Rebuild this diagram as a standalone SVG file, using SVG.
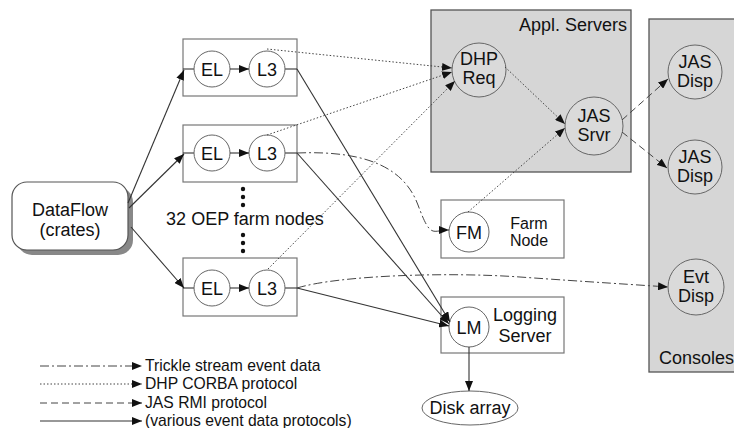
<svg xmlns="http://www.w3.org/2000/svg" width="734" height="428" viewBox="0 0 734 428">
<style>
text{font-family:"Liberation Sans",Arial,sans-serif;fill:#111}
.lbl{font-size:18px;text-anchor:middle}
.sm{font-size:16px;text-anchor:middle}
.leg{font-size:15.7px}
.circ{fill:#fff;stroke:#666;stroke-width:1}
.gc{fill:#dadada;stroke:#666;stroke-width:1}
.box{fill:#fff;stroke:#777;stroke-width:1.2}
.grp{fill:#d6d6d6;stroke:#555;stroke-width:1.3}
.ln{fill:none;stroke:#333;stroke-width:1.1}
.dot{fill:none;stroke:#444;stroke-width:1;stroke-dasharray:1.5 2}
.dash{fill:none;stroke:#444;stroke-width:1;stroke-dasharray:7 4}
.dd{fill:none;stroke:#444;stroke-width:1;stroke-dasharray:9 3 2 3}
</style>
<defs>
<marker id="ah" viewBox="0 0 10 8" refX="10" refY="4" markerWidth="10" markerHeight="8" markerUnits="userSpaceOnUse" orient="auto"><path d="M0,0L10,4L0,8z" fill="#111"/></marker>
</defs>

<g id="appl-servers">
<rect class="grp" x="431" y="10" width="200" height="162"/>
<text x="627" y="31" style="font-size:18px;text-anchor:end">Appl. Servers</text>
</g>
<g id="consoles">
<rect class="grp" x="649" y="19" width="100" height="353"/>
<text x="659" y="364" style="font-size:18px">Consoles</text>
</g>

<g id="dataflow">
<rect x="17" y="187" width="116" height="68" rx="15" fill="#888"/>
<rect x="12" y="182" width="116" height="68" rx="15" fill="#fff" stroke="#555" stroke-width="1.2"/>
<text class="lbl" x="70" y="216">DataFlow</text>
<text class="lbl" x="70" y="236">(crates)</text>
</g>

<g id="farm1">
<rect class="box" x="183" y="39" width="114" height="57"/>
<line class="ln" x1="183" y1="69" x2="194" y2="69"/>
<line class="ln" x1="285" y1="69" x2="297" y2="69"/>
<circle class="circ" cx="212" cy="69" r="18"/><text class="lbl" x="212" y="75.5">EL</text>
<circle class="circ" cx="267" cy="69" r="18"/><text class="lbl" x="267" y="75.5">L3</text>
</g>
<g id="farm2">
<rect class="box" x="183" y="125" width="114" height="57"/>
<line class="ln" x1="183" y1="153" x2="194" y2="153"/>
<line class="ln" x1="285" y1="153" x2="297" y2="153"/>
<circle class="circ" cx="212" cy="153" r="18"/><text class="lbl" x="212" y="159.5">EL</text>
<circle class="circ" cx="267" cy="153" r="18"/><text class="lbl" x="267" y="159.5">L3</text>
</g>
<g id="farm3">
<rect class="box" x="183" y="258" width="114" height="58"/>
<line class="ln" x1="183" y1="288" x2="194" y2="288"/>
<line class="ln" x1="285" y1="288" x2="297" y2="288"/>
<circle class="circ" cx="212" cy="288" r="18"/><text class="lbl" x="212" y="294.5">EL</text>
<circle class="circ" cx="267" cy="288" r="18"/><text class="lbl" x="267" y="294.5">L3</text>
</g>
<g id="farm-label">
<circle cx="243" cy="189" r="2.2" fill="#111"/><circle cx="243" cy="197" r="2.2" fill="#111"/><circle cx="243" cy="205" r="2.2" fill="#111"/>
<text class="lbl" x="245" y="225">32 OEP farm nodes</text>
<circle cx="243" cy="235" r="2.2" fill="#111"/><circle cx="243" cy="243" r="2.2" fill="#111"/><circle cx="243" cy="251" r="2.2" fill="#111"/>
</g>

<g id="dhp-req">
<circle class="gc" cx="479" cy="70" r="27"/>
<text class="lbl" x="479" y="65">DHP</text><text class="lbl" x="479" y="84">Req</text>
</g>
<g id="jas-srvr">
<circle class="gc" cx="594" cy="126" r="29"/>
<text class="lbl" x="594" y="122">JAS</text><text class="lbl" x="594" y="141">Srvr</text>
</g>
<g id="jas-disp1">
<circle class="gc" cx="695" cy="72" r="27"/>
<text class="lbl" x="695" y="68">JAS</text><text class="lbl" x="695" y="87">Disp</text>
</g>
<g id="jas-disp2">
<circle class="gc" cx="695" cy="167" r="27"/>
<text class="lbl" x="695" y="163">JAS</text><text class="lbl" x="695" y="182">Disp</text>
</g>
<g id="evt-disp">
<circle class="gc" cx="696" cy="287" r="28"/>
<text class="lbl" x="696" y="283">Evt</text><text class="lbl" x="696" y="302">Disp</text>
</g>

<g id="farm-node">
<rect class="box" x="441" y="200" width="123" height="58"/>
<circle class="circ" cx="469" cy="232" r="20"/>
<text class="lbl" x="469" y="238.5">FM</text>
<text class="sm" x="529" y="229">Farm</text><text class="sm" x="529" y="246">Node</text>
</g>
<g id="logging-server">
<rect class="box" x="441" y="297" width="123" height="56"/>
<circle class="circ" cx="469" cy="327" r="20"/>
<text class="lbl" x="469" y="333.5">LM</text>
<text class="lbl" x="525" y="321">Logging</text><text class="lbl" x="525" y="342">Server</text>
</g>
<g id="disk-array">
<ellipse cx="470" cy="408" rx="48" ry="17" fill="#fff" stroke="#666" stroke-width="1"/>
<text class="lbl" x="470" y="414">Disk array</text>
</g>

<g id="connectors">
<path class="ln" d="M128,203L184,70" marker-end="url(#ah)"/>
<path class="ln" d="M129,208L184,154" marker-end="url(#ah)"/>
<path class="ln" d="M131,227L184,288" marker-end="url(#ah)"/>
<path class="ln" d="M230,69L249,69" marker-end="url(#ah)"/>
<path class="ln" d="M230,153L249,153" marker-end="url(#ah)"/>
<path class="ln" d="M230,288L249,288" marker-end="url(#ah)"/>
<path class="ln" d="M297,69L450,322" marker-end="url(#ah)"/>
<path class="ln" d="M297,153L449,324" marker-end="url(#ah)"/>
<path class="ln" d="M297,288L449,326" marker-end="url(#ah)"/>
<path class="ln" d="M469,347L469,391" marker-end="url(#ah)"/>
<path class="dot" d="M267,49L452,68" marker-end="url(#ah)"/>
<path class="dot" d="M267,135L452,72" marker-end="url(#ah)"/>
<path class="dot" d="M268,269L455,81" marker-end="url(#ah)"/>
<path class="dot" d="M505,67L565,124" marker-end="url(#ah)"/>
<path class="dot" d="M468,212L565,128" marker-end="url(#ah)"/>
<path class="dash" d="M622,120L668,79" marker-end="url(#ah)"/>
<path class="dash" d="M622,132L667,168" marker-end="url(#ah)"/>
<path class="dd" d="M297,153C370,150 405,170 418,205S432,230 449,230" marker-end="url(#ah)"/>
<path class="dd" d="M297,288C340,275 450,272 520,277S640,285 668,287" marker-end="url(#ah)"/>
</g>

<g id="legend">
<path class="dd" d="M40,366L142,366" marker-end="url(#ah)"/>
<path class="dot" d="M40,384L142,384" marker-end="url(#ah)"/>
<path class="dash" d="M40,403L142,403" marker-end="url(#ah)"/>
<path class="ln" d="M40,421L142,421" marker-end="url(#ah)"/>
<text class="leg" x="145" y="371">Trickle stream event data</text>
<text class="leg" x="145" y="389">DHP CORBA protocol</text>
<text class="leg" x="145" y="408">JAS RMI protocol</text>
<text class="leg" x="145" y="426">(various event data protocols)</text>
</g>
</svg>
